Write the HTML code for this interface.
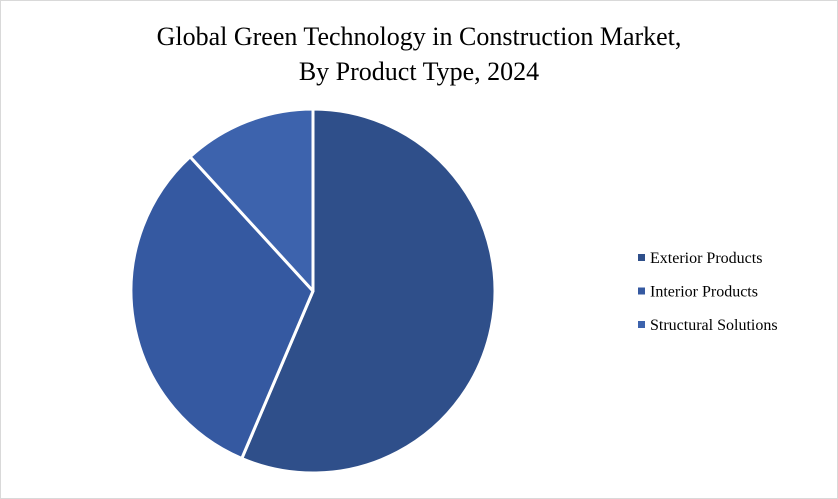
<!DOCTYPE html>
<html>
<head>
<meta charset="utf-8">
<style>
html,body{margin:0;padding:0;background:#fff;}
#wrap{position:relative;width:836px;height:497px;border:1px solid #d9d9d9;background:#fff;overflow:hidden;}
svg{position:absolute;left:0;top:0;}
text{font-family:"Liberation Serif",serif;fill:#000;}
</style>
</head>
<body>
<div id="wrap">
<svg id="chart" width="836" height="497">
  <text x="418" y="44" text-anchor="middle" font-size="26">Global Green Technology in Construction Market,</text>
  <text x="418" y="79" text-anchor="middle" font-size="26">By Product Type, 2024</text>
  <g id="slices"></g>
  <g id="legend"></g>
</svg>
</div>
<script>
const categories = ["Exterior Products", "Interior Products", "Structural Solutions"];
const values = [56.4, 31.8, 11.8];
const colors = ["#2f4f8a", "#3559a1", "#3d63ad"];

const cx = 312, cy = 290, r = 182;
const ns = "http://www.w3.org/2000/svg";
const total = values.reduce((a, b) => a + b, 0);
const slices = document.getElementById("slices");
const legend = document.getElementById("legend");
function pt(a) { return [cx + r * Math.sin(a), cy - r * Math.cos(a)]; }
let start = 0;
values.forEach((v, i) => {
  const ang = v / total * 2 * Math.PI;
  const end = start + ang;
  const [x1, y1] = pt(start), [x2, y2] = pt(end);
  const large = ang > Math.PI ? 1 : 0;
  const p = document.createElementNS(ns, "path");
  p.setAttribute("d", `M${cx},${cy} L${x1},${y1} A${r},${r} 0 ${large} 1 ${x2},${y2} Z`);
  p.setAttribute("fill", colors[i]);
  p.setAttribute("stroke", "#fff");
  p.setAttribute("stroke-width", "3");
  p.setAttribute("stroke-linejoin", "round");
  
  
  slices.appendChild(p);
  start = end;

  const g = document.createElementNS(ns, "g");
  
  
  const y = 257 + i * 33.5;
  const m = document.createElementNS(ns, "rect");
  m.setAttribute("x", 637); m.setAttribute("y", y - 4);
  m.setAttribute("width", 7); m.setAttribute("height", 7);
  m.setAttribute("fill", colors[i]);
  
  
  const t = document.createElementNS(ns, "text");
  t.setAttribute("x", 649); t.setAttribute("y", y + 5);
  t.setAttribute("font-size", "16");
  t.textContent = categories[i];
  
  
  g.appendChild(m); g.appendChild(t);
  legend.appendChild(g);
});
</script>
</body>
</html>
